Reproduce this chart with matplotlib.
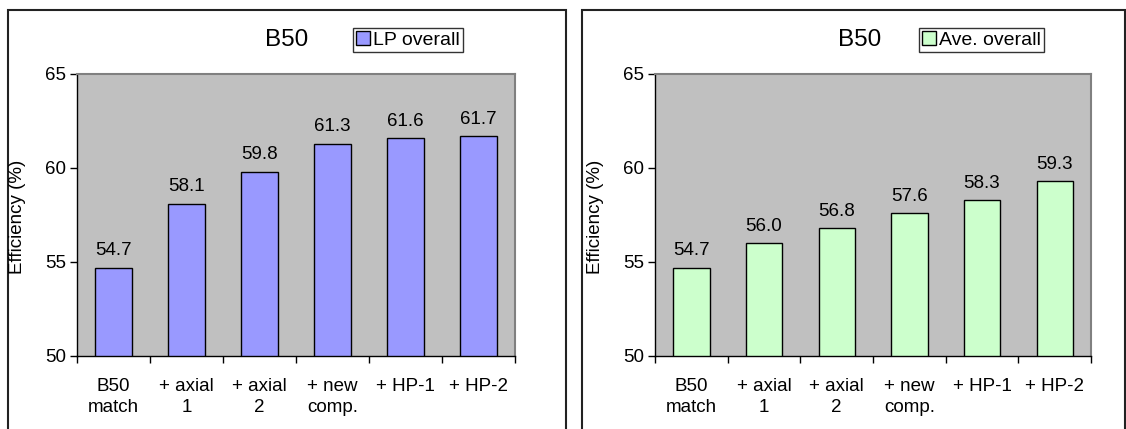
import matplotlib
matplotlib.use("Agg")
import matplotlib.pyplot as plt
from matplotlib.patches import Rectangle
import numpy as np

plt.rcParams['font.family'] = ['Liberation Sans', 'DejaVu Sans']

categories = ["B50\nmatch", "+ axial\n1", "+ axial\n2", "+ new\ncomp.", "+ HP-1", "+ HP-2"]
lp_overall = [54.7, 58.1, 59.8, 61.3, 61.6, 61.7]
ave_overall = [54.7, 56.0, 56.8, 57.6, 58.3, 59.3]
title = "B50"
ylabel = "Efficiency (%)"
yticks = [50, 55, 60, 65]

W, H = 1126, 429
fig = plt.figure(figsize=(W / 100, H / 100), dpi=100)

def fx(px):
    return px / W

def fy(py):
    return 1 - py / H

# outer panel borders
for x0, x1 in [(8, 566), (582, 1125)]:
    fig.patches.append(Rectangle((fx(x0), fy(432)), fx(x1 - x0), (432 - 10) / H,
                                 transform=fig.transFigure, fill=False,
                                 edgecolor='#222222', linewidth=1.5, zorder=0))

panels = [
    dict(vals=lp_overall, color='#9999FF', label='LP overall', ax_l=77, ax_r=515,
         title_x=287, leg=(349, 467), ylab_x=18),
    dict(vals=ave_overall, color='#CCFFCC', label='Ave. overall', ax_l=655, ax_r=1091,
         title_x=860, leg=(915, 1048), ylab_x=596),
]

FS = 13.5
ax_top, ax_bot = 74, 356
for p in panels:
    ax = fig.add_axes([fx(p['ax_l']), fy(ax_bot), fx(p['ax_r'] - p['ax_l']), (ax_bot - ax_top) / H])
    ax.set_facecolor('#C0C0C0')
    x = np.arange(len(categories))
    bars = ax.bar(x, p['vals'], width=0.5, color=p['color'], edgecolor='black',
                  linewidth=1.0, label=p['label'], zorder=2)
    ax.bar_label(bars, labels=[f"{v:.1f}" for v in p['vals']], padding=6, fontsize=FS)
    ax.set_xlim(-0.5, len(categories) - 0.5)
    ax.set_ylim(50, 65)
    ax.set_yticks(yticks)
    ax.tick_params(axis='y', labelsize=FS, length=5, direction='out', width=1, pad=3)
    ax.set_xticks(np.arange(len(categories) + 1) - 0.5)
    ax.set_xticklabels([])
    ax.set_xticks(x, minor=True)
    ax.set_xticklabels(categories, minor=True, fontsize=FS, linespacing=1.3)
    ax.tick_params(axis='x', which='minor', length=0, pad=16)
    ax.tick_params(axis='x', which='major', length=5, direction='out', width=1)
    for s in ['left', 'bottom']:
        ax.spines[s].set_color('black')
        ax.spines[s].set_linewidth(1.0)
    for s in ['top', 'right']:
        ax.spines[s].set_color('#808080')
        ax.spines[s].set_linewidth(1.5)
    fig.text(fx(p['ylab_x']), fy((ax_top + ax_bot) / 2 + 2), ylabel, rotation=90,
             ha='center', va='center', fontsize=13.5)
    fig.text(fx(p['title_x']), fy(40), title, ha='center', va='center', fontsize=17.5)
    l0, l1 = p['leg']
    leg = ax.legend(loc='center', bbox_to_anchor=(fx((l0 + l1) / 2), fy(40)),
                    bbox_transform=fig.transFigure, fontsize=14, frameon=True,
                    fancybox=False, edgecolor='black', handlelength=0.7,
                    handleheight=0.7, handletextpad=0.15, borderpad=0.15,
                    borderaxespad=0)
    leg.get_frame().set_linewidth(1.0)

fig.savefig("out.png", dpi=100)
